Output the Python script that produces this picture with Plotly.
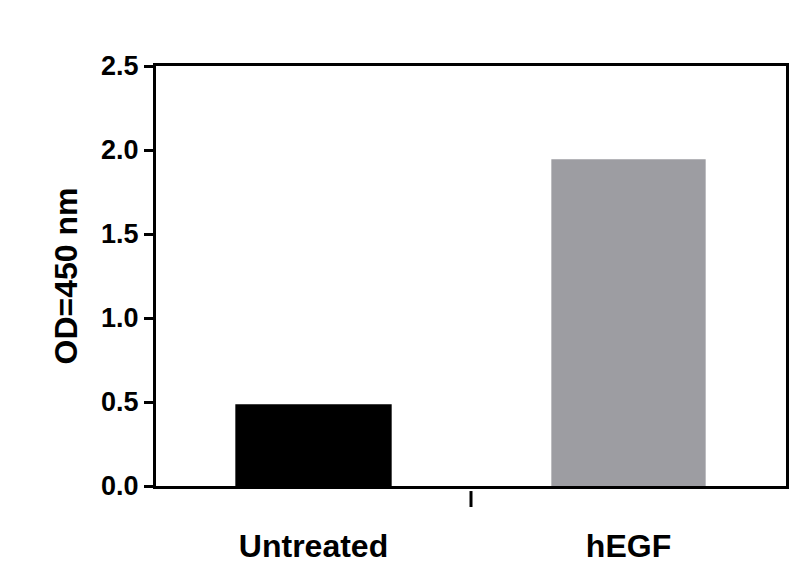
import plotly.graph_objects as go

categories = ["Untreated", "hEGF"]
od_values = [0.48, 1.945]
bar_colors = ["#000000", "#9d9da2"]
y_ticks = [0.0, 0.5, 1.0, 1.5, 2.0, 2.5]
y_tick_labels = ["0.0", "0.5", "1.0", "1.5", "2.0", "2.5"]

fig = go.Figure()
fig.add_trace(go.Bar(
    x=[0, 1],
    y=od_values,
    width=0.49,
    marker=dict(color=bar_colors, line=dict(color="#000000", width=[2, 0])),
))

# small tick between the two groups, below the axis
fig.add_shape(type="line", xref="x", yref="paper", x0=0.5, x1=0.5, y0=-0.012, y1=-0.05,
              line=dict(color="black", width=3))

font = dict(family="Liberation Sans, Arial", color="black")
fig.update_layout(
    width=800, height=581,
    margin=dict(l=148, r=22, t=58, b=103),
    plot_bgcolor="white", paper_bgcolor="white",
    showlegend=False,
    font=font,
)
fig.update_xaxes(
    range=[-0.5, 1.5], tickvals=[0, 1],
    ticktext=["<b>%s</b>" % c for c in categories],
    tickfont=dict(size=32), ticks="", ticklabelstandoff=30, automargin=False,
    showline=True, linecolor="black", linewidth=3, mirror=True, showgrid=False, zeroline=False,
)
fig.update_yaxes(
    range=[0, 2.5], tickvals=y_ticks,
    ticktext=["<b>%s</b>" % t for t in y_tick_labels],
    tickfont=dict(size=27), ticks="outside", ticklen=9, tickwidth=3, tickcolor="black",
    automargin=False,
    showline=True, linecolor="black", linewidth=3, mirror=True, showgrid=False, zeroline=False,
    title=dict(text="<b>OD=450 nm</b>", font=dict(size=32), standoff=14),
)
fig.write_html("out.html")
